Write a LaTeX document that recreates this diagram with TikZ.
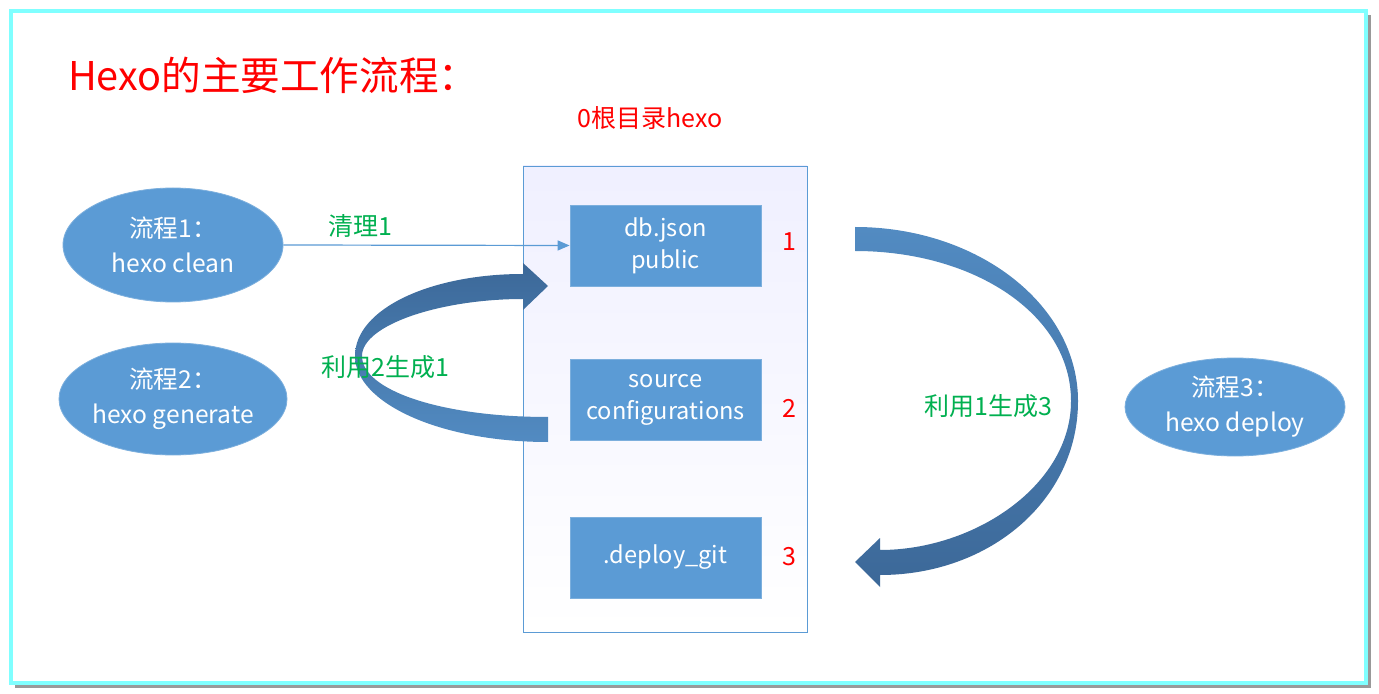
\documentclass[tikz,border=0pt]{standalone}
\usepackage{fontspec}
\setmainfont{Noto Sans CJK SC}
\usetikzlibrary{shapes, arrows.meta, positioning}

\definecolor{frameCyan}{RGB}{128,255,255}
\definecolor{boxBlue}{RGB}{91,155,213}
\definecolor{bandDark}{RGB}{60,104,152}
\definecolor{bandLight}{RGB}{82,139,194}
\definecolor{labelGreen}{RGB}{0,176,80}

\begin{document}
\begin{tikzpicture}[x=0.5pt, y=-0.5pt,
        box/.style={fill=boxBlue, draw=boxBlue!80!white, minimum width=95.5pt, minimum height=40.5pt, text=white, font=\fontsize{11.8}{16}\selectfont, align=center},
        step ellipse/.style={ellipse, fill=boxBlue, draw=boxBlue!80!white, inner sep=0pt, minimum width=110pt, text=white, font=\fontsize{12.3}{17.5}\selectfont, align=center},
        note/.style={text=labelGreen, font=\fontsize{12.5}{15}\selectfont},
        num/.style={text=red, font=\fontsize{12.5}{15}\selectfont}
      ]
        \useasboundingbox (0,0) rectangle (1379,694);
        % frame with shadow
        \fill[black!40] (15,15) rectangle (1371,688);
        \draw[frameCyan, line width=2pt, fill=white] (11,11) rectangle (1366,683);

        \node[anchor=west, text=red, font=\fontsize{19.8}{22}\selectfont] (title) at (61,75) {Hexo的主要工作流程：};

        % root folder
        \node[draw=boxBlue, top color=blue!6, bottom color=white, minimum width=142pt, minimum height=233pt] (root) at (665,399) {};
        \node[text=red, font=\fontsize{12.5}{15}\selectfont] (rootname) at (650,118) {0根目录hexo};
        \node[box] (db) at (665.5,245.5) {db.json\\public};
        \node[box] (src) at (665.5,399.5) {source\\configurations};
        \node[box] (git) at (665.5,557.5) {.deploy\_git};
        \node[num] (n1) at (789,242) {1};
        \node[num] (n2) at (789,408) {2};
        \node[num] (n3) at (789,557) {3};

        % steps
        \node[step ellipse, minimum height=57pt] (clean) at (173,245) {流程1：\\hexo clean};
        \node[step ellipse, minimum height=56pt] (generate) at (173,399) {流程2：\\hexo generate};
        \node[step ellipse, minimum height=49pt] (deploy) at (1235,407) {流程3：\\hexo deploy};

        \draw[boxBlue, line width=0.6pt, -{Triangle[length=6pt, width=5pt]}] (clean.east) -- (db.west) node[note, pos=0.27, above] {清理1};

        % curved band arrows
        \shade[top color=bandDark, bottom color=bandLight]
          (548,442) .. controls (440,442) and (355,403) .. (355,356)
          .. controls (355,309) and (430,274) .. (523,274)
          -- (523,263) -- (548,286) -- (523,310) -- (523,299)
          .. controls (440,299) and (362,325) .. (362,356)
          .. controls (362,390) and (440,417) .. (548,417) -- cycle;
        \node[note] (gen) at (385,367) {利用2生成1};

        \shade[top color=bandLight, bottom color=bandDark]
          (855,227) .. controls (978,227) and (1078,305) .. (1078,401)
          .. controls (1078,500) and (990,575) .. (880,575)
          -- (880,587) -- (855,562) -- (880,538) -- (880,550)
          .. controls (975,550) and (1071,485) .. (1071,401)
          .. controls (1071,315) and (975,251) .. (855,251) -- cycle;
        \node[note] (dep) at (988,406) {利用1生成3};
      \end{tikzpicture}
\end{document}
